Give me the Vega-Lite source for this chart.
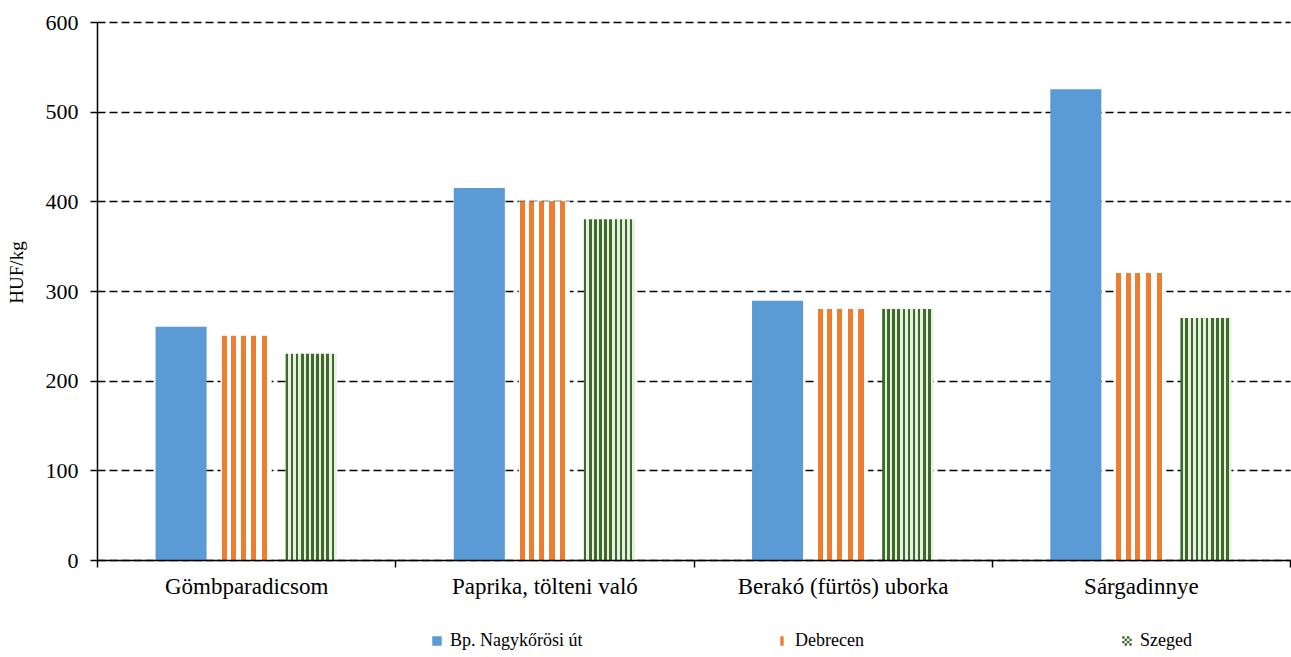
{
  "$schema": "https://vega.github.io/schema/vega-lite/v6.json",
  "width": 1193,
  "height": 538,
  "autosize": "none",
  "padding": {"left": 97, "top": 22, "right": 1, "bottom": 97},
  "background": "white",
  "config": {
    "font": "'Liberation Serif', 'Times New Roman', serif",
    "view": {"stroke": null}
  },
  "data": {
    "values": [
      {"product": "Gömbparadicsom", "market": "Bp. Nagykőrösi út", "value": 260},
      {"product": "Gömbparadicsom", "market": "Debrecen", "value": 250},
      {"product": "Gömbparadicsom", "market": "Szeged", "value": 230},
      {"product": "Paprika, tölteni való", "market": "Bp. Nagykőrösi út", "value": 415},
      {"product": "Paprika, tölteni való", "market": "Debrecen", "value": 400},
      {"product": "Paprika, tölteni való", "market": "Szeged", "value": 380},
      {"product": "Berakó (fürtös) uborka", "market": "Bp. Nagykőrösi út", "value": 289},
      {"product": "Berakó (fürtös) uborka", "market": "Debrecen", "value": 280},
      {"product": "Berakó (fürtös) uborka", "market": "Szeged", "value": 280},
      {"product": "Sárgadinnye", "market": "Bp. Nagykőrösi út", "value": 525},
      {"product": "Sárgadinnye", "market": "Debrecen", "value": 320},
      {"product": "Sárgadinnye", "market": "Szeged", "value": 270}
    ]
  },
  "encoding": {
    "x": {
      "field": "product",
      "type": "nominal",
      "sort": ["Gömbparadicsom", "Paprika, tölteni való", "Berakó (fürtös) uborka", "Sárgadinnye"],
      "scale": {"paddingInner": 0, "paddingOuter": 0},
      "axis": {
        "title": null,
        "labelAngle": 0,
        "tickBand": "extent",
        "tickSize": 7,
        "tickColor": "black",
        "tickWidth": 1.5,
        "domainColor": "black",
        "domainWidth": 1.5,
        "labelFontSize": 23,
        "labelLimit": 500,
        "labelColor": "black",
        "labelPadding": 8,
        "labelFont": "'Liberation Serif', 'Times New Roman', serif",
        "zindex": 1
      }
    },
    "y": {
      "field": "value",
      "type": "quantitative",
      "scale": {"domain": [0, 600]},
      "axis": {
        "title": "HUF/kg",
        "titleFontSize": 19,
        "titleFontWeight": "normal",
        "titleColor": "black",
        "titleFont": "'Liberation Serif', 'Times New Roman', serif",
        "titleX": -71,
        "titleY": 250,
        "values": [0, 100, 200, 300, 400, 500, 600],
        "grid": true,
        "gridColor": "black",
        "gridDash": [8, 4],
        "gridWidth": 1.3,
        "domainColor": "black",
        "domainWidth": 1.5,
        "tickColor": "black",
        "tickSize": 7,
        "tickWidth": 1.5,
        "labelFontSize": 22,
        "labelColor": "black",
        "labelPadding": 12,
        "labelFont": "'Liberation Serif', 'Times New Roman', serif"
      }
    }
  },
  "layer": [
    {
      "mark": {"type": "bar"},
      "encoding": {
        "xOffset": {
          "field": "market",
          "type": "nominal",
          "sort": ["Bp. Nagykőrösi út", "Debrecen", "Szeged"],
          "scale": {"paddingInner": 0.215, "paddingOuter": 0.9}
        },
        "fill": {
          "condition": [
            {"test": "datum.market === 'Debrecen'", "value":
              {"gradient": "linear", "x1": 0, "y1": 0, "x2": 1, "y2": 0, "stops": [
                {"offset": 0, "color": "#ffffff"},
                {"offset": 0.02, "color": "#ffffff"},
                {"offset": 0.02, "color": "#ed7d31"},
                {"offset": 0.12, "color": "#ed7d31"},
                {"offset": 0.12, "color": "#ffffff"},
                {"offset": 0.2, "color": "#ffffff"},
                {"offset": 0.2, "color": "#ed7d31"},
                {"offset": 0.3, "color": "#ed7d31"},
                {"offset": 0.3, "color": "#ffffff"},
                {"offset": 0.39, "color": "#ffffff"},
                {"offset": 0.39, "color": "#ed7d31"},
                {"offset": 0.49, "color": "#ed7d31"},
                {"offset": 0.49, "color": "#ffffff"},
                {"offset": 0.6, "color": "#ffffff"},
                {"offset": 0.6, "color": "#ed7d31"},
                {"offset": 0.7, "color": "#ed7d31"},
                {"offset": 0.7, "color": "#ffffff"},
                {"offset": 0.81, "color": "#ffffff"},
                {"offset": 0.81, "color": "#ed7d31"},
                {"offset": 0.91, "color": "#ed7d31"},
                {"offset": 0.91, "color": "#ffffff"},
                {"offset": 1, "color": "#ffffff"}
              ]}
            },
            {"test": "datum.market === 'Szeged'", "value":
              {"gradient": "linear", "x1": 0, "y1": 0, "x2": 1, "y2": 0, "stops": [
                {"offset": 0, "color": "#3d6b28"},
                {"offset": 0.05, "color": "#3d6b28"},
                {"offset": 0.05, "color": "#e8efe3"},
                {"offset": 0.1, "color": "#e8efe3"},
                {"offset": 0.1, "color": "#3d6b28"},
                {"offset": 0.15, "color": "#3d6b28"},
                {"offset": 0.15, "color": "#e8efe3"},
                {"offset": 0.2, "color": "#e8efe3"},
                {"offset": 0.2, "color": "#3d6b28"},
                {"offset": 0.25, "color": "#3d6b28"},
                {"offset": 0.25, "color": "#e8efe3"},
                {"offset": 0.3, "color": "#e8efe3"},
                {"offset": 0.3, "color": "#3d6b28"},
                {"offset": 0.35, "color": "#3d6b28"},
                {"offset": 0.35, "color": "#e8efe3"},
                {"offset": 0.4, "color": "#e8efe3"},
                {"offset": 0.4, "color": "#3d6b28"},
                {"offset": 0.45, "color": "#3d6b28"},
                {"offset": 0.45, "color": "#e8efe3"},
                {"offset": 0.5, "color": "#e8efe3"},
                {"offset": 0.5, "color": "#3d6b28"},
                {"offset": 0.55, "color": "#3d6b28"},
                {"offset": 0.55, "color": "#e8efe3"},
                {"offset": 0.6, "color": "#e8efe3"},
                {"offset": 0.6, "color": "#3d6b28"},
                {"offset": 0.65, "color": "#3d6b28"},
                {"offset": 0.65, "color": "#e8efe3"},
                {"offset": 0.7, "color": "#e8efe3"},
                {"offset": 0.7, "color": "#3d6b28"},
                {"offset": 0.75, "color": "#3d6b28"},
                {"offset": 0.75, "color": "#e8efe3"},
                {"offset": 0.8, "color": "#e8efe3"},
                {"offset": 0.8, "color": "#3d6b28"},
                {"offset": 0.85, "color": "#3d6b28"},
                {"offset": 0.85, "color": "#e8efe3"},
                {"offset": 0.9, "color": "#e8efe3"},
                {"offset": 0.9, "color": "#3d6b28"},
                {"offset": 0.95, "color": "#3d6b28"},
                {"offset": 0.95, "color": "#e8efe3"},
                {"offset": 1, "color": "#e8efe3"}
              ]}
            }
          ],
          "value": "#5b9bd5"
        }
      }
    },
    {
      "mark": {"type": "point", "filled": true, "opacity": 0},
      "encoding": {
        "color": {
          "field": "market",
          "type": "nominal",
          "sort": ["Bp. Nagykőrösi út", "Debrecen", "Szeged"],
          "scale": {
            "domain": ["Bp. Nagykőrösi út", "Debrecen", "Szeged"],
            "range": ["#5b9bd5", "#ed7d31", "#3d6b28"]
          },
          "legend": {
            "title": null,
            "orient": "none",
            "legendX": 331,
            "legendY": 610,
            "direction": "horizontal",
            "columns": 3,
            "gridAlign": "all",
            "columnPadding": 190,
            "symbolSize": 90,
            "symbolStrokeWidth": 0,
            "symbolOpacity": 1,
            "labelFontSize": 18,
            "labelColor": "black",
            "labelFont": "'Liberation Serif', 'Times New Roman', serif",
            "labelOffset": 4,
            "padding": 0
          }
        },
        "shape": {
          "field": "market",
          "type": "nominal",
          "sort": ["Bp. Nagykőrösi út", "Debrecen", "Szeged"],
          "scale": {
            "domain": ["Bp. Nagykőrösi út", "Debrecen", "Szeged"],
            "range": [
              "square",
              "M-0.35,-1H0.35V1H-0.35Z",
              "M-1,-1h0.5v0.5h-0.5Z M0,-1h0.5v0.5h-0.5Z M-0.5,-0.5h0.5v0.5h-0.5Z M0.5,-0.5h0.5v0.5h-0.5Z M-1,0h0.5v0.5h-0.5Z M0,0h0.5v0.5h-0.5Z M-0.5,0.5h0.5v0.5h-0.5Z M0.5,0.5h0.5v0.5h-0.5Z"
            ]
          },
          "legend": null
        }
      }
    }
  ]
}
